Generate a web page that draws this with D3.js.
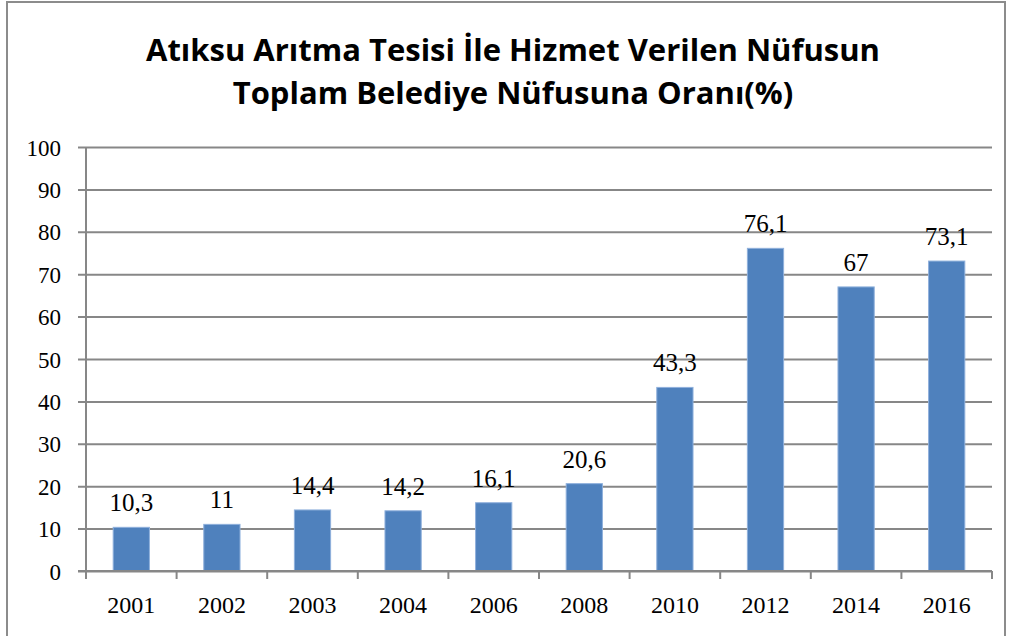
<!DOCTYPE html>
<html>
<head>
<meta charset="utf-8">
<script src="https://cdn.jsdelivr.net/npm/d3@7"></script>
<style>
  body { margin: 0; background: #fff; }
  text { fill: #000; }
</style>
</head>
<body>
<script>
// chart values
var years = ["2001", "2002", "2003", "2004", "2006", "2008", "2010", "2012", "2014", "2016"];
var values = [10.3, 11, 14.4, 14.2, 16.1, 20.6, 43.3, 76.1, 67, 73.1];
var labels = ["10,3", "11", "14,4", "14,2", "16,1", "20,6", "43,3", "76,1", "67", "73,1"];
var yTicks = [0, 10, 20, 30, 40, 50, 60, 70, 80, 90, 100];
var titleLines = ["Atıksu Arıtma Tesisi İle Hizmet Verilen Nüfusun", "Toplam Belediye Nüfusuna Oranı(%)"];

var W = 1011, H = 636;
var plotL = 86, plotR = 992, plotT = 147, plotB = 571;
var grey = "#878787";
var serif = "'Liberation Serif', 'DejaVu Serif', serif";

var svg = d3.select("body").append("svg").attr("width", W).attr("height", H);

// outer frame
svg.append("rect").attr("x", 7).attr("y", 2).attr("width", 998).attr("height", 700)
  .attr("fill", "none").attr("stroke", "#8c8c8c").attr("stroke-width", 2);

// title
svg.append("g").selectAll("text").data(titleLines).enter().append("text")
  .attr("x", 513).attr("y", function(d, i) { return 61 + i * 43; })
  .attr("text-anchor", "middle")
  .style("font-family", "'Open Sans', sans-serif")
  .style("font-weight", "bold").style("font-size", "31px")
  .text(function(d) { return d; });

var x = d3.scaleBand().domain(years).range([plotL, plotR]).paddingInner(0.6).paddingOuter(0.3);
var y = d3.scaleLinear().domain([0, 100]).range([plotB, plotT]);

// gridlines + left ticks
var yAxis = d3.axisLeft(y).tickValues(yTicks).tickSize(-(plotR - plotL)).tickSizeOuter(0).tickPadding(25);
var gy = svg.append("g").attr("transform", "translate(" + plotL + ",0)").call(yAxis);
gy.select(".domain").remove();
gy.selectAll(".tick line").attr("x1", -8).attr("stroke", grey).attr("stroke-width", 2);
gy.selectAll(".tick text").style("font-family", serif).style("font-size", "23px").attr("dy", "0.35em");

// vertical axis line
svg.append("line").attr("x1", plotL).attr("x2", plotL).attr("y1", plotT).attr("y2", plotB + 7)
  .attr("stroke", grey).attr("stroke-width", 2);

// bars
svg.append("g").selectAll("rect").data(values).enter().append("rect")
  .attr("x", function(d, i) { return x(years[i]); })
  .attr("width", x.bandwidth())
  .attr("y", function(d) { return y(d); })
  .attr("height", function(d) { return y(0) - y(d); })
  .attr("fill", "#4f81bd").attr("stroke", "#8fb0dc").attr("stroke-width", 1);

// value labels
svg.append("g").selectAll("text").data(values).enter().append("text")
  .attr("x", function(d, i) { return x(years[i]) + x.bandwidth() / 2; })
  .attr("y", function(d) { return y(d) - 16; })
  .attr("text-anchor", "middle")
  .style("font-family", serif).style("font-size", "25px")
  .text(function(d, i) { return labels[i]; });

// bottom axis
var step = x.step();
var bounds = d3.range(years.length + 1).map(function(i) { return plotL + i * step; });
svg.append("line").attr("x1", plotL - 8).attr("x2", plotR).attr("y1", plotB).attr("y2", plotB)
  .attr("stroke", grey).attr("stroke-width", 2);
svg.append("g").selectAll("line").data(bounds).enter().append("line")
  .attr("x1", function(d) { return d; }).attr("x2", function(d) { return d; })
  .attr("y1", plotB).attr("y2", plotB + 8)
  .attr("stroke", grey).attr("stroke-width", 2);
svg.append("g").selectAll("text").data(years).enter().append("text")
  .attr("x", function(d) { return x(d) + x.bandwidth() / 2; })
  .attr("y", 613)
  .attr("text-anchor", "middle")
  .style("font-family", serif).style("font-size", "24px")
  .text(function(d) { return d; });
</script>
</body>
</html>
